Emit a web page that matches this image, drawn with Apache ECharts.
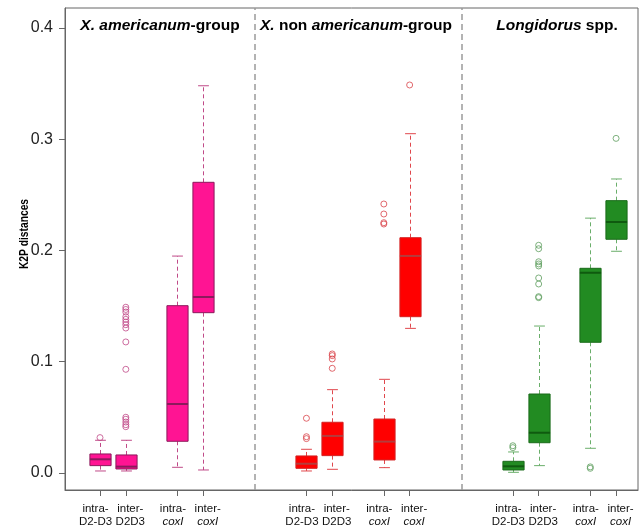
<!DOCTYPE html>
<html>
<head>
<meta charset="utf-8">
<script src="https://cdn.jsdelivr.net/npm/echarts@6/dist/echarts.min.js"></script>
<style>
html,body{margin:0;padding:0;background:#fff;}
#chart{width:640px;height:526px;}
</style>
</head>
<body>
<div id="chart"></div>
<script>
// ---------- DATA ----------
const groupTitles = ['X. americanum-group', 'X. non americanum-group', 'Longidorus spp.'];
const comparisons = ['intra-D2-D3', 'inter-D2D3', 'intra-coxI', 'inter-coxI'];
const tickLabels = ['intra-\nD2-D3', 'inter-\nD2D3', 'intra-\n{it|coxI}', 'inter-\n{it|coxI}'];
const yTicks = [0, 0.1, 0.2, 0.3, 0.4];

// box stats: [lower whisker, Q1, median, Q3, upper whisker]
const americanumStats = [
  [0.0018, 0.0066, 0.0123, 0.0171, 0.0294],
  [0.0018, 0.0036, 0.0057, 0.0162, 0.0294],
  [0.0051, 0.0285, 0.0620, 0.1504, 0.1950],
  [0.0027, 0.1441, 0.1582, 0.2613, 0.3481]
];
const nonAmericanumStats = [
  [0.0018, 0.0042, 0.0083, 0.0153, 0.0213],
  [0.0033, 0.0156, 0.0333, 0.0456, 0.0749],
  [0.0048, 0.0117, 0.0282, 0.0485, 0.0842],
  [0.1300, 0.1405, 0.1951, 0.2115, 0.3050]
];
const longidorusStats = [
  [0.0006, 0.0027, 0.0060, 0.0105, 0.0189],
  [0.0066, 0.0272, 0.0362, 0.0710, 0.1321],
  [0.0222, 0.1175, 0.1800, 0.1840, 0.2291],
  [0.1993, 0.2101, 0.2256, 0.2448, 0.2643]
];

// outliers
const americanumOutliers = [
  [0.0318],
  [0.1490, 0.1470, 0.1447, 0.1405, 0.1381, 0.1357, 0.1333, 0.1303, 0.1178, 0.0932, 0.0501, 0.0483, 0.0458, 0.0434, 0.0416],
  [],
  []
];
const nonAmericanumOutliers = [
  [0.0492, 0.0326, 0.0309],
  [0.1070, 0.1055, 0.1025, 0.0941],
  [0.2418, 0.2328, 0.2250, 0.2238],
  [0.3488]
];
const longidorusOutliers = [
  [0.0245, 0.0228],
  [0.2047, 0.2016, 0.1899, 0.1879, 0.1861, 0.1753, 0.1699, 0.1585, 0.1576],
  [0.0055, 0.0042],
  [0.3008]
];

// ---------- LAYOUT / STYLE ----------
const FONT = "'Liberation Sans', Arial, sans-serif";
const slotOffsets = [0, 1, 3, 4];
const groupStride = 8;
const BOX_W = 0.82, CAP_W = 0.42;
const X_MIN = -1.357, X_MAX = 20.85;
const styles = [
  {fill: '#FF1493', border: '#8B1A5C', median: '#8B1A5C', whisker: '#C04A88', outlier: '#C04A88'},
  {fill: '#FF0000', border: '#D42020', median: '#B43C3C', whisker: '#E0474C', outlier: '#D9434A'},
  {fill: '#228B22', border: '#1A6B1A', median: '#0F5A0F', whisker: '#6AAE6A', outlier: '#5E9E5E'}
];
const allStats = [americanumStats, nonAmericanumStats, longidorusStats];
const allOutliers = [americanumOutliers, nonAmericanumOutliers, longidorusOutliers];

const pos = (g, k) => g * groupStride + slotOffsets[k];
// split ticks: intra (k even) on one axis, inter (k odd) on another, so labels never collide
const intraPos = [], interPos = [];
const tickTextByPos = {};
for (let g = 0; g < 3; g++) for (let k = 0; k < 4; k++) {
  (k % 2 === 0 ? intraPos : interPos).push(pos(g, k));
  tickTextByPos[pos(g, k)] = tickLabels[k];
}

function makeRender(st) {
  return function (params, api) {
    const x = api.value(0);
    const lo = api.coord([x, api.value(1)]);
    const q1 = api.coord([x, api.value(2)]);
    const md = api.coord([x, api.value(3)]);
    const q3 = api.coord([x, api.value(4)]);
    const hi = api.coord([x, api.value(5)]);
    const bw = api.size([BOX_W, 0])[0];
    const cw = api.size([CAP_W, 0])[0];
    const cx = Math.round(md[0]) + 0.5;
    const wStyle = {stroke: st.whisker, lineWidth: 1, lineDash: [4, 3]};
    const cStyle = {stroke: st.whisker, lineWidth: 1};
    return {
      type: 'group',
      children: [
        {type: 'line', shape: {x1: cx, y1: q3[1], x2: cx, y2: hi[1]}, style: wStyle},
        {type: 'line', shape: {x1: cx, y1: q1[1], x2: cx, y2: lo[1]}, style: wStyle},
        {type: 'line', shape: {x1: cx - cw / 2, y1: hi[1], x2: cx + cw / 2, y2: hi[1]}, style: cStyle},
        {type: 'line', shape: {x1: cx - cw / 2, y1: lo[1], x2: cx + cw / 2, y2: lo[1]}, style: cStyle},
        {type: 'rect', shape: {x: cx - bw / 2, y: q3[1], width: bw, height: q1[1] - q3[1]},
          style: {fill: st.fill, stroke: st.border, lineWidth: 1}},
        {type: 'line', shape: {x1: cx - bw / 2, y1: md[1], x2: cx + bw / 2, y2: md[1]},
          style: {stroke: st.median, lineWidth: 2}}
      ]
    };
  };
}

const series = [];
for (let g = 0; g < 3; g++) {
  const boxData = allStats[g].map((s, k) => [pos(g, k)].concat(s));
  series.push({
    type: 'custom',
    renderItem: makeRender(styles[g]),
    data: boxData,
    encode: {x: 0, y: [1, 2, 3, 4, 5]},
    z: 2
  });
  const outData = [];
  allOutliers[g].forEach((arr, k) => arr.forEach(v => outData.push([pos(g, k), v])));
  series.push({
    type: 'scatter',
    data: outData,
    symbol: 'circle',
    symbolSize: 6,
    itemStyle: {color: 'rgba(0,0,0,0)', borderColor: styles[g].outlier, borderWidth: 1},
    z: 3
  });
}
// group dividers
series.push({
  type: 'scatter',
  data: [],
  markLine: {
    silent: true,
    symbol: 'none',
    label: {show: false},
    lineStyle: {color: '#9a9a9a', type: [6, 4], width: 1.5},
    data: [1, 2].map(g => ({xAxis: g * groupStride - 2}))
  }
});

const titleRich = {
  i: {fontStyle: 'italic', fontWeight: 'bold', fontSize: 15.5, fontFamily: FONT, fill: '#000'},
  n: {fontWeight: 'bold', fontSize: 15.5, fontFamily: FONT, fill: '#000'}
};
const titleTexts = [
  '{i|X.} {i|americanum}{n|-group}',
  '{i|X.}{n| non }{i|americanum}{n|-group}',
  '{i|Longidorus}{n| spp.}'
];
const titleX = [160, 356, 557];

function makeXAxis(values, padding, showLine) {
  return {
    type: 'value',
    position: 'bottom',
    min: X_MIN,
    max: X_MAX,
    splitLine: {show: false},
    axisLine: {show: showLine, onZero: false, lineStyle: {color: '#666'}},
    axisTick: {show: true, inside: false, length: 6, lineStyle: {color: '#666'}, customValues: values},
    axisLabel: {
      customValues: values,
      formatter: v => tickTextByPos[v] || '',
      fontSize: 11.5,
      lineHeight: 13,
      color: '#111',
      fontFamily: FONT,
      margin: 12,
      padding: padding,
      hideOverlap: false,
      showMinLabel: true,
      showMaxLabel: true,
      rich: {it: {fontStyle: 'italic', fontSize: 11.5, lineHeight: 13, fontFamily: FONT, color: '#111'}}
    }
  };
}

const option = {
  animation: false,
  grid: {left: 65, right: 2, top: 8, bottom: 36, show: true, borderColor: '#666', borderWidth: 1,
    containLabel: false, outerBoundsMode: 'none'},
  xAxis: [
    makeXAxis(intraPos, [0, 9, 0, 0], true),
    makeXAxis(interPos, [0, 0, 0, 9], false)
  ],
  yAxis: {
    type: 'value',
    min: -0.0153,
    max: 0.418,
    splitLine: {show: false},
    axisLine: {show: true, onZero: false, lineStyle: {color: '#666'}},
    axisTick: {show: true, inside: false, length: 6, lineStyle: {color: '#666'}, customValues: yTicks},
    axisLabel: {
      customValues: yTicks,
      formatter: v => v.toFixed(1),
      fontSize: 16,
      color: '#222',
      fontFamily: FONT,
      margin: 12
    }
  },
  graphic: [
    {type: 'text', x: 24, y: 234, rotation: Math.PI / 2, scaleX: 0.76,
      style: {text: 'K2P distances', fontSize: 13.5, fontWeight: 'bold', fontFamily: FONT, fill: '#000',
        align: 'center', verticalAlign: 'middle'}}
  ].concat(titleTexts.map((t, i) => ({
    type: 'text', x: titleX[i], y: 26,
    style: {text: t, rich: titleRich, fontSize: 15.5, fontWeight: 'bold', fontFamily: FONT, fill: '#000',
      align: 'center', verticalAlign: 'middle'}
  }))),
  series: series
};

const chart = echarts.init(document.getElementById('chart'), null, {renderer: 'canvas'});
chart.setOption(option);
</script>
</body>
</html>
